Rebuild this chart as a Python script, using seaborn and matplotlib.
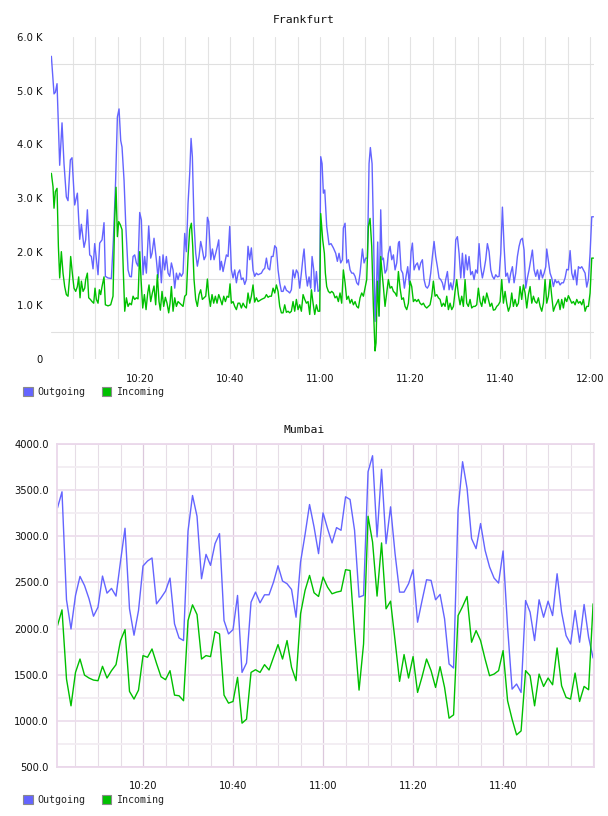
import pandas as pd
import matplotlib
matplotlib.use("Agg")
import matplotlib.pyplot as plt
from matplotlib.patches import Patch
from matplotlib.ticker import FixedLocator, MultipleLocator, FuncFormatter
import seaborn as sns

BLUE = "#6464ff"
GREEN = "#00c000"

series_names = ["Outgoing", "Incoming"]
time_ticks = [20, 40, 60, 80, 100, 120]          # minutes after 10:00
time_labels = ["10:20", "10:40", "11:00", "11:20", "11:40", "12:00"]

# Frankfurt, minutes after 10:00 / bytes
fra_out_t = [0.23, 0.82, 1.12, 1.49, 2.08, 2.60, 3.04, 3.56, 3.93, 4.45, 4.82, 5.41, 6.01, 6.53, 6.90, 7.49,
             7.86, 8.23, 8.75, 9.12, 9.49, 9.86, 10.23, 10.60, 10.97, 11.49, 11.93, 12.23, 12.82, 13.56, 14.01,
             14.50, 14.90, 15.27, 15.64, 15.93, 16.38, 16.75, 17.27, 17.64, 18.01, 18.38, 18.75, 19.12, 19.49,
             19.86, 20.23, 20.60, 20.97, 21.34, 21.86, 22.30, 22.60, 23.04, 23.56, 23.93, 24.30, 24.67, 25.04,
             25.41, 25.78, 26.16, 26.53, 26.90, 27.27, 27.64, 28.01, 28.38, 28.75, 29.12, 29.49, 29.86, 30.23,
             30.60, 30.97, 31.27, 31.56, 31.93, 32.30, 32.67, 33.04, 33.41, 33.71, 34.16, 34.53, 34.90, 35.19,
             35.64, 36.01, 36.38, 36.75, 37.12, 37.42, 37.71, 38.01, 38.38, 38.75, 39.12, 39.49, 39.86, 40.23,
             40.60, 40.97, 41.34, 41.71, 42.08, 42.45, 42.82, 43.19, 43.56, 43.93, 44.30, 44.67, 45.04, 45.41,
             45.78, 46.16, 46.90, 47.27, 47.64, 48.01, 48.38, 48.75, 49.12, 49.49, 49.86, 50.23, 50.60, 50.97,
             51.34, 51.71, 52.08, 52.45, 52.82, 53.19, 53.56, 53.93, 54.30, 54.67, 55.04, 55.41, 55.78, 56.16,
             56.38, 56.75, 57.12, 57.49, 57.86, 58.16, 58.53, 58.75, 59.12, 59.49, 59.86, 60.08, 60.38, 60.67,
             60.97, 61.41, 61.93, 62.37, 62.89, 63.41, 63.78, 64.15, 64.52, 64.89, 65.11, 65.49, 65.86, 66.23,
             66.60, 66.97, 67.34, 67.71, 68.08, 68.45, 68.82, 69.34, 69.71, 70.08, 70.45, 70.82, 71.11, 71.49,
             71.78, 72.15, 72.52, 72.74, 73.04, 73.41, 73.71, 74.00, 74.37, 74.74, 75.11, 75.49, 75.86, 76.23,
             76.60, 76.97, 77.34, 77.56, 77.93, 78.30, 78.67, 79.04, 79.41, 79.78, 80.15, 80.45, 80.82, 81.19,
             81.56, 81.93, 82.30, 82.67, 83.04, 83.41, 83.78, 84.15, 84.52, 84.89, 85.26, 85.63, 86.00, 86.37,
             86.74, 87.11, 87.48, 87.85, 88.23, 88.60, 88.97, 89.34, 89.71, 90.08, 90.45, 90.82, 91.19, 91.56,
             91.93, 92.30, 92.67, 93.04, 93.41, 93.78, 94.15, 94.52, 94.89, 95.26, 95.63, 96.00, 96.37, 96.74,
             97.11, 97.49, 97.86, 98.23, 98.60, 98.97, 99.34, 99.71, 100.08, 100.45, 100.82, 101.19, 101.56,
             101.93, 102.30, 102.67, 103.04, 103.41, 103.78, 104.15, 104.52, 104.89, 105.26, 105.63, 106.00,
             106.37, 106.74, 107.11, 107.49, 107.86, 108.23, 108.60, 108.97, 109.34, 109.71, 110.08, 110.30,
             110.67, 111.04, 111.41, 111.78, 112.15, 112.52, 112.89, 113.26, 113.63, 114.00, 114.37, 114.74,
             115.11, 115.49, 115.86, 116.23, 116.60, 116.97, 117.34, 117.71, 118.08, 118.45, 118.82, 119.19,
             119.56, 119.93, 120.30, 120.67]
fra_out = [5640, 4940, 4970, 5130, 3610, 4400, 3640, 3020, 2950, 3710, 3750, 2870, 3090, 2230, 2510, 2080,
           2220, 2780, 1940, 1910, 1680, 2150, 1850, 1570, 2160, 2220, 2540, 1540, 1510, 1500, 2220,
           3300, 4510, 4660, 4070, 3950, 3330, 2520, 1660, 1540, 1530, 1910, 1940, 1790, 1730,
           2730, 2590, 1570, 1910, 1600, 2480, 1880, 1970, 2250, 1850, 1510, 1910, 1420, 1940,
           1660, 1910, 1600, 1540, 1790, 1660, 1320, 1600, 1480, 1600, 1540, 1600, 2340, 2000,
           2900, 3460, 4110, 3770, 2530, 1970, 1730, 1910, 2190, 2070, 1850, 1920, 2640, 2560,
           1850, 2050, 1850, 1970, 2100, 2220, 1660, 1820, 1630, 1790, 1940, 1910, 2470, 1660,
           1510, 1660, 1420, 1600, 1660, 1480, 1510, 1390, 1480, 2100, 1850, 2070, 1660, 1540,
           1600, 1570, 1600, 1660, 1690, 1880, 1690, 1660, 1910, 1910, 2110, 2070, 1660, 1420,
           1260, 1260, 1360, 1280, 1260, 1230, 1290, 1660, 1510, 1660, 1600, 1320, 1600, 1910,
           2050, 1600, 1360, 1530, 1320, 1910, 1660, 1260, 1630, 1260, 1290, 3770, 3640, 3090,
           3150, 2470, 2130, 2150, 2070, 1970, 1820, 1970, 1790, 1850, 2440, 2530, 1790, 1850,
           1660, 1600, 1600, 1540, 1420, 1380, 1600, 2050, 1790, 1880, 1880, 3640, 3940, 3640,
           2470, 700, 1480, 2180, 800, 2780, 1850, 1880, 1600, 1660, 1970, 2100, 1850, 1940,
           1660, 1790, 2160, 2190, 1660, 1600, 1320, 1540, 1720, 1380, 2000, 2160, 1660, 1750,
           1790, 1660, 1790, 1850, 1480, 1350, 1320, 1380, 1600, 1910, 2190, 1910, 1720, 1510,
           1480, 1420, 1290, 1480, 1630, 1290, 1420, 1290, 1480, 2220, 2280, 1970, 1510, 1970,
           1510, 1940, 1660, 1910, 1570, 1630, 1480, 1660, 1600, 2150, 1720, 1510, 1660, 1850,
           2150, 2000, 1660, 1540, 1490, 1570, 1530, 1540, 1970, 2830, 2100, 1540, 1600,
           1420, 1600, 1720, 1420, 1600, 1910, 2100, 2220, 2250, 2030, 1320, 1510,
           1660, 1850, 2030, 1660, 1540, 1660, 1480, 1660, 1510, 1600, 1720, 2050,
           1820, 1600, 1510, 1350, 1480, 1420, 1450, 1380, 1420, 1420, 1510, 1670,
           1660, 2020, 1600, 1480, 1660, 1380, 1720, 1690, 1720, 1660, 1600, 1340,
           1480, 1970, 2650, 2650]

fra_in_t = [0.23, 0.60, 0.82, 1.12, 1.49, 1.79, 2.08, 2.45, 2.82, 3.19, 3.56, 3.93, 4.30, 4.52, 4.89, 5.26,
            5.64, 6.01, 6.30, 6.60, 6.90, 7.27, 7.64, 7.86, 8.23, 8.53, 8.90, 9.27, 9.64, 9.93, 10.23, 10.60,
            10.90, 11.19, 11.49, 11.93, 12.23, 12.82, 13.41, 13.93, 14.30, 14.60, 14.90, 15.19, 15.56, 15.93,
            16.23, 16.53, 16.90, 17.27, 17.64, 18.01, 18.38, 18.75, 19.12, 19.49, 19.86, 20.16, 20.53, 20.90,
            21.27, 21.64, 21.93, 22.30, 22.67, 23.04, 23.41, 23.78, 24.15, 24.45, 24.82, 25.19, 25.56, 25.93,
            26.30, 26.60, 26.90, 27.27, 27.64, 28.01, 28.38, 28.75, 29.12, 29.49, 29.86, 30.23, 30.60, 30.97,
            31.34, 31.64, 31.93, 32.30, 32.67, 33.04, 33.41, 33.78, 34.16, 34.53, 34.90, 35.19, 35.56, 35.93,
            36.30, 36.67, 37.04, 37.42, 37.79, 38.16, 38.53, 38.90, 39.27, 39.64, 39.93, 40.23, 40.60, 40.97,
            41.34, 41.71, 42.08, 42.45, 42.82, 43.19, 43.56, 43.93, 44.30, 44.67, 45.04, 45.41, 45.78, 46.16,
            46.90, 47.64, 48.01, 48.38, 48.75, 49.12, 49.49, 49.86, 50.23, 50.60, 50.97, 51.34, 51.71, 52.08,
            52.45, 52.82, 53.19, 53.56, 53.93, 54.30, 54.67, 55.04, 55.41, 55.78, 56.16, 56.53, 56.90, 57.27,
            57.64, 58.01, 58.38, 58.75, 59.12, 59.49, 59.86, 60.08, 60.52, 60.89, 61.11, 61.41, 61.78, 62.15,
            62.52, 62.89, 63.26, 63.63, 64.00, 64.37, 64.74, 65.11, 65.49, 65.86, 66.23, 66.60, 66.97, 67.34,
            67.71, 68.08, 68.45, 68.82, 69.19, 69.56, 69.93, 70.30, 70.67, 71.04, 71.41, 71.78, 72.15, 72.37,
            72.67, 73.04, 73.41, 73.71, 74.00, 74.37, 74.74, 75.11, 75.49, 75.86, 76.23, 76.60, 76.97, 77.34,
            77.71, 78.08, 78.45, 78.82, 79.19, 79.56, 79.93, 80.30, 80.67, 81.04, 81.41, 81.78, 82.15, 82.52,
            82.89, 83.26, 83.63, 84.00, 84.37, 84.74, 85.11, 85.49, 85.86, 86.23, 86.60, 86.97, 87.34, 87.71,
            88.08, 88.45, 88.82, 89.19, 89.56, 89.93, 90.30, 90.67, 91.04, 91.41, 91.78, 92.15, 92.52, 92.89,
            93.26, 93.63, 94.00, 94.37, 94.74, 95.11, 95.49, 95.86, 96.23, 96.60, 96.97, 97.34, 97.71, 98.08,
            98.45, 98.82, 99.19, 99.56, 99.93, 100.30, 100.67, 101.04, 101.41, 101.78, 102.15, 102.52, 102.89,
            103.26, 103.63, 104.00, 104.37, 104.74, 105.11, 105.49, 105.86, 106.23, 106.60, 106.97, 107.34,
            107.71, 108.08, 108.45, 108.82, 109.19, 109.56, 109.93, 110.30, 110.67, 111.04, 111.41, 111.78,
            112.15, 112.52, 112.89, 113.26, 113.63, 114.00, 114.37, 114.74, 115.11, 115.49, 115.86, 116.23,
            116.60, 116.97, 117.34, 117.71, 118.08, 118.45, 118.82, 119.19, 119.56, 119.93, 120.30, 120.67]
fra_in = [3460, 3210, 2810, 3120, 3180, 2100, 1510, 2000, 1600, 1350, 1200, 1170, 1540, 1910, 1600, 1320,
          1260, 1350, 1530, 1140, 1450, 1260, 1320, 1480, 1600, 1140, 1110, 1070, 1040, 1320, 1110, 1040,
          1290, 1200, 1350, 1530, 1010, 990, 1010, 1170, 2590, 3200, 2280, 2560, 2500, 2410,
          1600, 890, 1140, 980, 1040, 1010, 1170, 1110, 1140, 1120, 2000, 1480, 950, 1200,
          920, 1230, 1380, 1070, 1230, 1360, 1010, 1570, 1070, 910, 1260, 980, 1150, 1040,
          860, 1040, 1350, 890, 1140, 980, 1070, 1040, 1010, 980, 1170, 1200, 1910, 2410,
          2530, 2100, 1480, 1110, 980, 1200, 1290, 1110, 1140, 1170, 1490, 1200, 980, 1200,
          1040, 1170, 1040, 1200, 1110, 1010, 1170, 1070, 1170, 1150, 1400, 1040, 1070, 980,
          920, 1040, 1040, 950, 1040, 980, 950, 1230, 1040, 1170, 1380, 1060, 1140, 1070,
          1110, 1140, 1200, 1150, 1170, 1170, 1320, 1230, 1380, 1260, 980, 860, 860, 1010,
          870, 890, 860, 890, 1070, 890, 1110, 920, 1010, 890, 1200, 1110, 1040, 1070,
          830, 1290, 1040, 830, 1010, 890, 890, 2710, 2220, 1970, 1600, 1350, 1260, 1230,
          1260, 1230, 1140, 1170, 1070, 1230, 1040, 1660, 1420, 1110, 1170, 1040, 1110, 1010,
          1070, 980, 950, 1140, 1230, 1170, 1320, 1480, 2470, 2620, 2100, 980, 150, 300,
          1450, 800, 1910, 1600, 1350, 980, 1230, 1480, 1320, 1350, 1260, 1230, 1170, 1630,
          1320, 1110, 1140, 980, 920, 1040, 1450, 1350, 1070, 1110, 1070, 1110, 1040, 1010,
          1040, 980, 950, 980, 1010, 1170, 1450, 1170, 1200, 1140, 1110, 980, 1040, 980,
          1170, 920, 1040, 920, 980, 1260, 1480, 1200, 1010, 1170, 980, 1480, 1040, 980,
          1110, 950, 980, 980, 1010, 1320, 1070, 980, 1170, 1040, 1230, 1110, 980, 1040,
          910, 920, 980, 1010, 1070, 1480, 1040, 1260, 1040, 890, 980, 1230, 980,
          1110, 980, 1040, 1350, 1110, 1380, 1230, 950, 1200, 1350, 1040, 1170,
          1070, 1040, 1140, 980, 890, 1040, 1480, 1040, 1170, 1480, 1170, 890,
          980, 1040, 1110, 920, 1110, 950, 1140, 1070, 1180, 1110, 1040, 1070,
          1010, 1110, 1040, 1070, 1010, 1110, 890, 980, 980, 1230, 1880, 1880]

# Mumbai, one sample per minute from 10:01 to 12:00
mum_minutes = list(range(1, 121))
mum_out = [3308, 3482, 2312, 1996, 2359, 2565, 2467, 2323, 2134, 2232, 2569, 2384, 2435, 2352, 2728, 3087,
           2214, 1928, 2196, 2678, 2732, 2765, 2268, 2333, 2406, 2547, 2051, 1899, 1870, 3058, 3442, 3217,
           2540, 2804, 2685, 2920, 3029, 2087, 1942, 1989, 2359, 1525, 1627, 2286, 2395, 2279, 2366, 2366,
           2504, 2681, 2515, 2486, 2424, 2123, 2721, 3018, 3344, 3101, 2812, 3254,
           3083, 2928, 3094, 3065, 3428, 3399, 3065, 2341, 2359, 3699, 3873, 2993, 3725, 2920, 3319, 2812,
           2395, 2395, 2486, 2638, 2069, 2304, 2529, 2522, 2312, 2370, 2105, 1616, 1573, 3283, 3808, 3518,
           2975, 2866, 3138, 2848, 2667, 2547, 2493, 2841, 2015, 1344, 1399, 1308, 2304, 2178, 1870, 2312,
           2123, 2297, 2141, 2594, 2178, 1924, 1833, 2196, 1852, 2261, 1906, 1681]
mum_in = [2033, 2203, 1453, 1163, 1525, 1670, 1496, 1464, 1442, 1435, 1591, 1464, 1544, 1609, 1870, 1989,
          1319, 1236, 1333, 1707, 1689, 1779, 1623, 1478, 1446, 1544, 1279, 1272, 1218, 2087, 2257, 2152,
          1670, 1707, 1696, 1967, 1942, 1279, 1192, 1210, 1471, 975, 1018, 1525, 1554, 1525, 1609, 1551,
          1689, 1826, 1670, 1870, 1580, 1435, 2160, 2413, 2576, 2388, 2348, 2558,
          2449, 2377, 2395, 2406, 2638, 2630, 1942, 1333, 1833, 3217, 2938, 2352, 2928, 2214, 2297, 1870,
          1428, 1718, 1464, 1696, 1308, 1478, 1670, 1544, 1362, 1587, 1362, 1029, 1065, 2141, 2239, 2348,
          1852, 1978, 1870, 1670, 1489, 1507, 1544, 1761, 1218, 1018, 848, 891, 1544, 1489, 1163, 1507,
          1373, 1464, 1391, 1790, 1380, 1254, 1236, 1518, 1210, 1373, 1337, 2268]


def long_frame(t_out, v_out, t_in, v_in):
    a = pd.DataFrame({"minute": t_out, "value": v_out, "series": "Outgoing"})
    b = pd.DataFrame({"minute": t_in, "value": v_in, "series": "Incoming"})
    return pd.concat([a, b], ignore_index=True)


def draw_lines(ax, df):
    sns.lineplot(data=df, x="minute", y="value", hue="series", hue_order=series_names,
                 palette={"Outgoing": BLUE, "Incoming": GREEN}, estimator=None,
                 sort=True, linewidth=1.0, legend=False, ax=ax)
    ax.set_xlabel("")
    ax.set_ylabel("")


def add_legend(fig, y_px):
    handles = [Patch(facecolor=BLUE, edgecolor="#8a8a8a", linewidth=0.8, label="Outgoing"),
               Patch(facecolor=GREEN, edgecolor="#8a8a8a", linewidth=0.8, label="Incoming")]
    fig.legend(handles=handles, loc="center left", bbox_to_anchor=(23 / 608, 1 - y_px / 816),
               ncol=2, frameon=False, handlelength=0.95, handleheight=0.95, handletextpad=0.5,
               columnspacing=1.6, borderpad=0, borderaxespad=0,
               prop={"family": "DejaVu Sans Mono", "size": 7.2})


sns.set_theme(style="white")
plt.rcParams["font.family"] = ["DejaVu Sans"]

fig = plt.figure(figsize=(6.08, 8.16), dpi=100)

# ---- Frankfurt
ax1 = fig.add_axes([51 / 608, 1 - 359 / 816, 543 / 608, 322 / 816])
draw_lines(ax1, long_frame(fra_out_t, fra_out, fra_in_t, fra_in))
ax1.set_xlim(0.15, 120.8)
ax1.set_ylim(0, 6000)
ax1.xaxis.set_major_locator(FixedLocator(time_ticks))
ax1.set_xticklabels(time_labels)
ax1.xaxis.set_minor_locator(MultipleLocator(5))
ax1.yaxis.set_major_locator(MultipleLocator(1000))
ax1.yaxis.set_minor_locator(MultipleLocator(500))
ax1.yaxis.set_major_formatter(FuncFormatter(lambda v, p: "0" if v == 0 else f"{v / 1000:.1f} K"))
ax1.grid(False)
ax1.grid(which="both", axis="x", color="#e3e3e3", linewidth=0.8)
ax1.grid(which="minor", axis="y", color="#e0e0e0", linewidth=0.8)
for s in ax1.spines.values():
    s.set_visible(False)
ax1.tick_params(which="both", length=0, labelsize=7.2, colors="#111111")
ax1.tick_params(axis="x", pad=11)
ax1.tick_params(axis="y", pad=6)
fig.text(0.5, 1 - 20 / 816, "Frankfurt", ha="center", va="center",
         family="DejaVu Sans Mono", fontsize=8.2, color="#111111")
add_legend(fig, 392)

# ---- Mumbai
ax2 = fig.add_axes([57 / 608, 1 - 767 / 816, 537 / 608, 323 / 816])
draw_lines(ax2, long_frame(mum_minutes, mum_out, mum_minutes, mum_in))
ax2.set_xlim(0.89, 120.2)
ax2.set_ylim(500, 4000)
ax2.xaxis.set_major_locator(FixedLocator(time_ticks[:-1]))
ax2.set_xticklabels(time_labels[:-1])
ax2.xaxis.set_minor_locator(MultipleLocator(5))
ax2.yaxis.set_major_locator(MultipleLocator(500))
ax2.yaxis.set_minor_locator(MultipleLocator(250))
ax2.yaxis.set_major_formatter(FuncFormatter(lambda v, p: f"{v:.1f}"))
ax2.grid(False)
ax2.grid(which="major", axis="x", color="#dcc8dc", linewidth=0.9)
ax2.grid(which="minor", axis="x", color="#e6dde6", linewidth=0.8)
ax2.grid(which="major", axis="y", color="#eddeed", linewidth=1.3)
ax2.grid(which="minor", axis="y", color="#f2edf2", linewidth=1.3)
ax2.set_axisbelow(True)
for s in ax2.spines.values():
    s.set_color("#ead8ea")
    s.set_linewidth(1.3)
ax2.tick_params(which="both", length=0, labelsize=7.2, colors="#111111")
ax2.tick_params(axis="x", pad=10)
ax2.tick_params(axis="y", pad=6)
fig.text(0.5, 1 - 430 / 816, "Mumbai", ha="center", va="center",
         family="DejaVu Sans Mono", fontsize=8.2, color="#111111")
add_legend(fig, 800)

fig.savefig("out.png", dpi=100)
